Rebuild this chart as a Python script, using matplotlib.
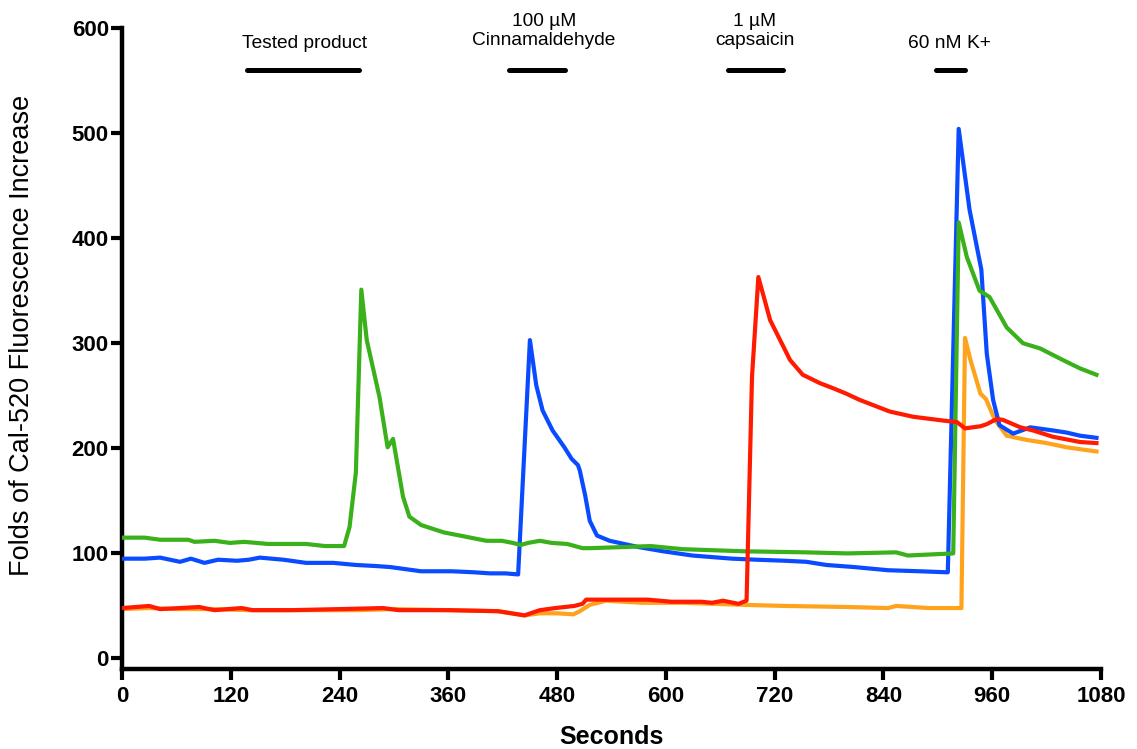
import matplotlib
matplotlib.use('Agg')
import matplotlib.pyplot as plt

plt.rcParams['font.family'] = ['Liberation Sans', 'DejaVu Sans']

# traces (seconds, folds)
green_t = [0, 25, 42, 73, 80, 102, 119, 135, 161, 186, 203, 224, 245, 251, 258, 264,
           270, 284, 293, 299, 310, 317, 330, 355, 402, 419, 431, 440, 448, 461, 474, 491,
           508, 516, 552, 583, 619, 687, 755, 800, 854, 867, 917, 923, 932, 946, 957, 976,
           994, 1013, 1038, 1057, 1075]
green_v = [115, 115, 113, 113, 111, 112, 110, 111, 109, 109, 109, 107, 107, 125, 177, 351,
           303, 249, 201, 209, 154, 135, 127, 120, 112, 112, 110, 108, 110, 112, 110, 109,
           105, 105, 106, 107, 104, 102, 101, 100, 101, 98, 100, 415, 382, 350, 344, 315,
           300, 295, 284, 276, 270]

blue_t = [0, 25, 42, 64, 76, 91, 106, 127, 140, 152, 178, 203, 233, 258, 280, 296, 313,
          330, 364, 389, 406, 423, 437, 450, 457, 464, 475, 488, 496, 503, 505, 511, 516,
          524, 538, 570, 597, 629, 673, 700, 732, 755, 777, 808, 845, 880, 911, 923, 935,
          948, 954, 961, 968, 983, 1002, 1027, 1042, 1057, 1075]
blue_v = [95, 95, 96, 92, 95, 91, 94, 93, 94, 96, 94, 91, 91, 89, 88, 87, 85,
          83, 83, 82, 81, 81, 80, 303, 260, 236, 217, 201, 190, 184, 179, 155, 131,
          117, 112, 106, 102, 98, 95, 94, 93, 92, 89, 87, 84, 83, 82, 504, 427,
          370, 290, 246, 222, 214, 220, 217, 215, 212, 210]

red_t = [0, 30, 42, 85, 102, 132, 144, 186, 240, 288, 305, 360, 415, 444, 461, 478, 499,
         508, 512, 552, 580, 606, 639, 651, 663, 680, 689, 695, 702, 709, 715, 726, 737,
         751, 770, 785, 799, 814, 829, 847, 873, 910, 921, 930, 947, 954, 965, 972, 991,
         1005, 1027, 1057, 1075]
red_v = [48, 50, 47, 49, 46, 48, 46, 46, 47, 48, 46, 46, 45, 41, 46, 48, 50,
         52, 56, 56, 56, 54, 54, 53, 55, 52, 55, 268, 363, 341, 322, 303, 284,
         270, 262, 257, 252, 246, 241, 235, 230, 226, 225, 219, 221, 223, 228, 227, 220,
         217, 211, 206, 205]

orange_t = [0, 30, 60, 100, 140, 200, 260, 300, 360, 415, 444, 461, 480, 498, 505, 516,
            534, 574, 619, 687, 732, 800, 845, 854, 890, 926, 930, 936, 947, 953, 963, 976,
            998, 1020, 1042, 1075]
orange_v = [47, 48, 47, 47, 46, 46, 46, 47, 46, 45, 41, 43, 43, 42, 45, 51,
            55, 53, 53, 51, 50, 49, 48, 50, 48, 48, 305, 284, 252, 247, 227, 212,
            208, 205, 201, 197]

# application bars above the traces
stim_labels = ['Tested product', '100 \u00b5M\nCinnamaldehyde', '1 \u00b5M\ncapsaicin', '60 nM K+']
stim_start = [138, 427, 669, 898]
stim_end = [262, 489, 729, 930]
xticks = [0, 120, 240, 360, 480, 600, 720, 840, 960, 1080]
yticks = [0, 100, 200, 300, 400, 500, 600]

fig = plt.figure(figsize=(11.37, 7.49), dpi=100)
ax = fig.add_axes([122 / 1137, 80 / 749, 979 / 1137, 641 / 749])

lw = 3.0
ax.plot(orange_t, orange_v, color='#FFA21C', lw=lw, zorder=2)
ax.plot(blue_t, blue_v, color='#0A4BFF', lw=lw, zorder=3)
ax.plot(green_t, green_v, color='#3AB01B', lw=lw, zorder=4)
ax.plot(red_t, red_v, color='#FF1A00', lw=lw, zorder=5)

text_x = [305, 544, 755, 949]
for lab, s, e, tx in zip(stim_labels, stim_start, stim_end, text_x):
    ax.plot([s, e], [560, 560], color='black', lw=3.6, solid_capstyle='round', clip_on=False)
    t = (tx - 122.5) / 0.906
    if '\n' in lab:
        ax.text(t, 597, lab, ha='center', va='center', fontsize=13.8,
                linespacing=1.15, multialignment='center')
    else:
        ax.text(t, 585, lab, ha='center', va='center', fontsize=13.8)

ax.set_xlim(0, 1080)
ax.set_ylim(-10, 600)
ax.set_xticks(xticks)
ax.set_yticks(yticks)
for side in ['top', 'right']:
    ax.spines[side].set_visible(False)
for side in ['left', 'bottom']:
    ax.spines[side].set_linewidth(3.2)
ax.tick_params(axis='both', direction='out', length=8, width=3.0, labelsize=16)
ax.tick_params(axis='y', pad=1.5)
ax.tick_params(axis='x', pad=4)
for lbl in ax.get_xticklabels() + ax.get_yticklabels():
    lbl.set_fontweight('bold')

fig.text(22 / 1137, 1 - 335 / 749, 'Folds of Cal-520 Fluorescence Increase',
         rotation=90, ha='center', va='center', fontsize=19.5)
fig.text(611 / 1137, 1 - 737 / 749, 'Seconds', ha='center', va='center',
         fontsize=18, fontweight='bold')

fig.savefig('out.png', dpi=100)
